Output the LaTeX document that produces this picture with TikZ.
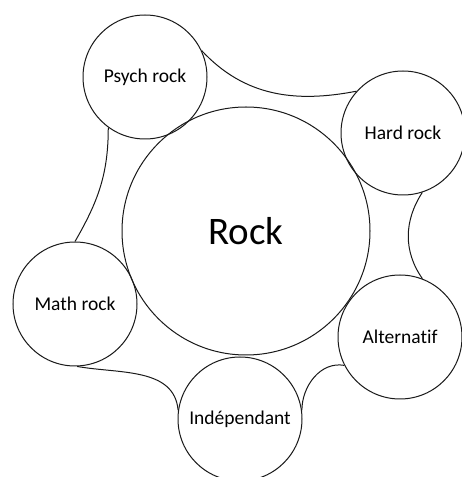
\documentclass[tikz,border=0pt]{standalone}
\usepackage{fontspec}
\setmainfont[Ligatures=NoCommon]{Carlito}
\usetikzlibrary{positioning}

\begin{document}
\begin{tikzpicture}[
  x=1pt, y=1pt,
  every node/.style={font=\fontsize{19.5}{21}\selectfont}
]
\tikzset{
  bubble/.style ={circle, draw=black!90, line width=1pt,
                  inner sep=0pt, align=center},
  genre/.style  ={bubble, minimum size=124pt},
  core/.style   ={bubble, minimum size=248pt,
                  font=\fontsize{39}{42}\selectfont},
  link/.style   ={draw=black!90, line width=1pt}
}
\useasboundingbox (0,0) rectangle (461,477);

%% ----- Centre -----
\node[core] (rock) at (246,246) {Rock};

%% ----- Satellites round the centre -----
\node[genre] (psych) at (145,400) {Psych rock};
\node[genre] (hard)  at (403,344) {Hard rock};
\node[genre] (alt)   at (400,140) {Alternatif};
\node[genre] (indep) at (240,58)  {Indépendant};
\node[genre] (math)  at (75,173)  {Math rock};

%% ----- Outer bridges between neighbours -----
\draw[link] (psych.25) to[out=-47, in=191] (hard.138);
\draw[link] (hard.-72) to[out=-123, in=125] (alt.69);
\draw[link] (alt.-153) to[out=170, in=90] (indep.8);
\draw[link] (indep.172) to[out=95, in=-10] (math.-88);
\draw[link] (math.90) to[out=60, in=-90] (psych.-126);

\end{tikzpicture}
\end{document}
